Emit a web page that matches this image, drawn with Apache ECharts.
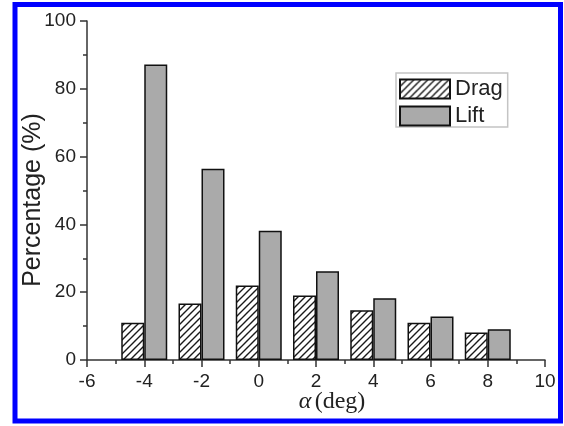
<!DOCTYPE html>
<html>
<head>
<meta charset="utf-8">
<script src="https://cdn.jsdelivr.net/npm/echarts@6/dist/echarts.min.js"></script>
<style>
  html, body { margin: 0; padding: 0; background: #fff; }
  #chart { width: 564px; height: 426px; }
</style>
</head>
<body>
<div id="chart"></div>
<script>
// Angle of attack (deg) and the share of each force component (%)
const angles = [-4, -2, 0, 2, 4, 6, 8];
const dragPct = [11.0, 16.7, 22.0, 19.0, 14.7, 11.0, 8.1];
const liftPct = [87.2, 56.4, 38.1, 26.2, 18.2, 12.8, 9.1];
const seriesNames = ['Drag', 'Lift'];

// Diagonal "/" hatch tile for the drag bars
function makeHatch() {
  const s = 7;
  const c = document.createElement('canvas');
  c.width = s; c.height = s;
  const g = c.getContext('2d');
  g.fillStyle = '#ffffff';
  g.fillRect(0, 0, s, s);
  g.strokeStyle = '#1a1a1a';
  g.lineWidth = 1.4;
  g.beginPath();
  g.moveTo(-1, s + 1); g.lineTo(s + 1, -1);
  g.moveTo(-1, 1); g.lineTo(1, -1);
  g.moveTo(s - 1, s + 1); g.lineTo(s + 1, s - 1);
  g.stroke();
  return c;
}

const chart = echarts.init(document.getElementById('chart'), null, { renderer: 'canvas' });
const sans = 'Liberation Sans, Arial, sans-serif';
const serif = 'Liberation Serif, Times New Roman, serif';

const tickStyle = { color: '#333', width: 1.5 };

chart.setOption({
  animation: false,
  backgroundColor: '#ffffff',
  grid: { left: 87, right: 19, top: 21, bottom: 66 },
  graphic: [{
    type: 'rect',
    shape: { x: 15, y: 4.5, width: 545.5, height: 416.5 },
    style: { fill: 'none', stroke: '#0000ff', lineWidth: 5 },
    silent: true
  }],
  legend: {
    data: seriesNames,
    orient: 'vertical',
    left: 396,
    top: 73,
    icon: 'rect',
    itemWidth: 50,
    itemHeight: 19,
    itemGap: 5,
    padding: [5, 5, 0, 3],
    borderColor: '#c4c4c4',
    borderWidth: 1.5,
    textStyle: { fontFamily: sans, fontSize: 22, lineHeight: 19, color: '#222' }
  },
  xAxis: {
    type: 'value',
    min: -6, max: 10, interval: 2,
    name: '{a|α} {b|(deg)}',
    nameLocation: 'middle',
    nameGap: 30,
    nameMoveOverlap: false,
    nameTextStyle: {
      padding: [0, 0, 0, 32],
      rich: {
        a: { fontFamily: serif, fontStyle: 'italic', fontSize: 24, color: '#222' },
        b: { fontFamily: serif, fontSize: 24, color: '#222' }
      }
    },
    axisLine: { show: true, onZero: false, lineStyle: tickStyle },
    axisTick: { show: true, length: 7, lineStyle: tickStyle },
    minorTick: { show: true, splitNumber: 2, length: 4, lineStyle: tickStyle },
    axisLabel: { fontFamily: sans, fontSize: 19, color: '#222', margin: 12 },
    splitLine: { show: false }
  },
  yAxis: {
    type: 'value',
    min: 0, max: 100, interval: 20,
    name: 'Percentage (%)',
    nameLocation: 'middle',
    nameGap: 41,
    nameMoveOverlap: false,
    nameTextStyle: { fontFamily: sans, fontSize: 25, color: '#222', padding: [0, 19, 0, 0] },
    axisLine: { show: true, onZero: false, lineStyle: tickStyle },
    axisTick: { show: true, length: 7, lineStyle: tickStyle },
    minorTick: { show: true, splitNumber: 2, length: 4, lineStyle: tickStyle },
    axisLabel: { fontFamily: sans, fontSize: 19, color: '#222', margin: 11 },
    splitLine: { show: false }
  },
  series: [
    {
      name: seriesNames[0],
      type: 'bar',
      barWidth: 23,
      barGap: '0%',
      data: angles.map((a, i) => [a, dragPct[i]]),
      itemStyle: {
        color: { image: makeHatch(), repeat: 'repeat' },
        borderColor: '#111',
        borderWidth: 1.5
      }
    },
    {
      name: seriesNames[1],
      type: 'bar',
      barWidth: 23,
      barGap: '0%',
      data: angles.map((a, i) => [a, liftPct[i]]),
      itemStyle: {
        color: '#aaaaaa',
        borderColor: '#111',
        borderWidth: 1.5
      }
    }
  ]
});
</script>
</body>
</html>
